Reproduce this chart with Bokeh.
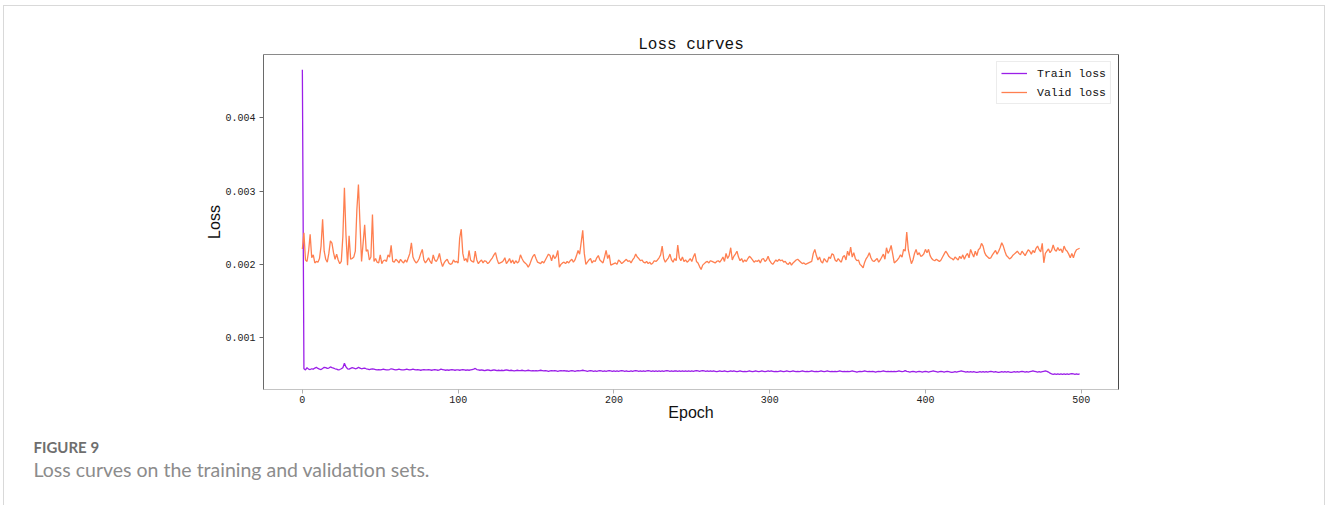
from bokeh.plotting import figure
from bokeh.models import (Range1d, FixedTicker, PrintfTickFormatter, Title,
                          LinearAxis, Legend, LegendItem)
from bokeh.embed import file_html
from bokeh.resources import INLINE

# ---------------- data (loss values in units of 1e-6) ----------------
title_text = "Loss curves"
x_label = "Epoch"
y_label = "Loss"
series_names = ["Train loss", "Valid loss"]
x_ticks = [0, 100, 200, 300, 400, 500]
y_ticks = [0.001, 0.002, 0.003, 0.004]
caption_head = "FIGURE 9"
caption_text = "Loss curves on the training and validation sets."

train_loss_e6 = [
    4657, 575, 560, 590, 570, 565, 575, 570, 585, 595,
    580, 570, 565, 580, 595, 590, 580, 585, 600, 590,
    585, 575, 570, 560, 565, 575, 590, 650, 600, 575,
    570, 580, 590, 585, 575, 580, 595, 585, 575, 580,
    585, 575, 570, 565, 570, 575, 570, 565, 560, 565,
    560, 565, 570, 565, 560, 560, 565, 575, 570, 565,
    560, 565, 570, 565, 560, 560, 565, 570, 565, 560,
    565, 570, 565, 560, 565, 560, 555, 560, 565, 560,
    560, 565, 560, 555, 560, 565, 560, 555, 560, 570,
    565, 560, 555, 560, 555, 560, 565, 560, 555, 560,
    560, 555, 560, 565, 560, 555, 560, 555, 560, 565,
    570, 580, 565, 560, 555, 560, 555, 550, 555, 560,
    555, 550, 555, 560, 555, 550, 555, 550, 555, 550,
    555, 560, 555, 550, 555, 550, 545, 550, 555, 550,
    550, 555, 550, 545, 550, 555, 550, 545, 550, 545,
    550, 545, 550, 555, 550, 545, 550, 545, 540, 545,
    550, 545, 550, 545, 540, 545, 550, 545, 550, 545,
    545, 540, 545, 550, 545, 540, 545, 550, 545, 550,
    555, 550, 545, 540, 545, 550, 545, 540, 545, 540,
    545, 550, 545, 540, 545, 540, 545, 550, 545, 540,
    545, 540, 545, 540, 545, 550, 545, 540, 545, 540,
    540, 545, 540, 545, 550, 545, 540, 545, 540, 545,
    540, 545, 550, 545, 540, 545, 540, 545, 540, 545,
    540, 545, 540, 545, 550, 545, 540, 545, 540, 545,
    545, 540, 545, 540, 545, 540, 545, 540, 545, 540,
    545, 540, 545, 550, 545, 540, 545, 550, 545, 540,
    545, 540, 545, 540, 545, 540, 535, 540, 545, 540,
    540, 545, 540, 535, 540, 545, 540, 545, 540, 535,
    540, 545, 540, 535, 540, 535, 540, 545, 540, 535,
    540, 545, 540, 535, 540, 545, 540, 535, 540, 545,
    540, 545, 540, 535, 540, 535, 540, 545, 540, 535,
    540, 545, 540, 535, 540, 545, 540, 535, 540, 535,
    540, 545, 540, 535, 540, 535, 540, 545, 540, 535,
    540, 535, 540, 545, 540, 535, 540, 545, 540, 535,
    540, 535, 540, 535, 540, 545, 540, 535, 540, 535,
    540, 535, 540, 545, 540, 535, 530, 535, 540, 535,
    540, 545, 540, 535, 540, 535, 540, 535, 530, 535,
    540, 535, 540, 545, 540, 535, 540, 535, 540, 535,
    540, 535, 540, 545, 540, 535, 540, 550, 540, 535,
    530, 535, 540, 535, 530, 535, 540, 535, 530, 535,
    540, 535, 530, 535, 540, 545, 540, 535, 530, 535,
    540, 535, 530, 535, 540, 535, 530, 525, 530, 535,
    530, 535, 540, 545, 540, 535, 530, 535, 530, 535,
    530, 535, 530, 525, 530, 535, 530, 535, 530, 535,
    530, 535, 540, 535, 530, 535, 530, 525, 530, 535,
    530, 535, 530, 535, 530, 525, 530, 535, 530, 535,
    530, 535, 540, 535, 530, 535, 530, 535, 540, 545,
    540, 535, 530, 535, 530, 535, 540, 545, 540, 530,
    515, 505, 500, 505, 500, 505, 500, 505, 500, 505,
    500, 505, 500, 505, 510, 505, 500, 505, 500, 505,
]

valid_loss_e6 = [
    2210, 2430, 2060, 2040, 2180, 2410, 2090, 2130, 2020, 2040,
    2030, 2080, 2250, 2615, 2180, 2070, 2030, 2150, 2320, 2290,
    2160, 2070, 2140, 2060, 2010, 2040, 2380, 3046, 2400, 1990,
    2390, 2070, 2080, 2100, 2180, 2750, 3090, 2550, 2040, 2290,
    2540, 2180, 2200, 2060, 2100, 2680, 2040, 2080, 2030, 2020,
    2130, 2010, 2050, 2060, 2040, 2130, 2100, 2260, 2040, 2030,
    2070, 2050, 2020, 2070, 2040, 2020, 2060, 2030, 2090, 2150,
    2295, 2100, 2050, 2020, 2040, 2080, 2150, 2205, 2060, 2020,
    2050, 2090, 2040, 2010, 2130, 2060, 2040, 2080, 2150, 2040,
    1970, 2020, 2050, 2070, 2020, 2000, 2010, 2060, 2030, 2040,
    2020, 2360, 2480, 2150, 2050, 2080, 2030, 2190, 2060, 2040,
    2030, 2180, 2060, 2010, 2040, 2060, 2020, 2050, 2040, 2010,
    2030, 2060, 2090, 2130, 2160, 2070, 2010, 2020, 2030, 2050,
    2090, 2010, 2040, 2080, 2020, 2060, 2010, 2050, 2020, 2040,
    2130, 2080, 2040, 2020, 2000, 1960, 2000, 2060, 2110, 2137,
    2080, 2030, 2020, 2010, 2040, 2020, 2060, 2100, 2140, 2120,
    2050, 2130, 2080, 2110, 2190, 1960, 2000, 2020, 2030, 2010,
    2040, 2020, 2050, 2070, 2030, 2060, 2120, 2190, 2140, 2300,
    2464, 2150, 2000, 2030, 2060, 2080, 2020, 2050, 2040, 2090,
    2120, 2060, 2040, 2020, 2100, 2190, 2080, 2130, 1990, 2000,
    2010, 2020, 2000, 2060, 2040, 2010, 2030, 2050, 2070, 2040,
    2050, 2020, 2060, 2090, 2140, 2100, 2080, 2050, 2060, 2030,
    2020, 2040, 2010, 2030, 2000, 2020, 2050, 2040, 2060, 2090,
    2130, 2250, 2080, 2030, 2060, 2090, 2140, 2060, 2030, 2080,
    2050, 2264, 2090, 2050, 2100, 2040, 2060, 2030, 2050, 2080,
    2040, 2100, 2150, 2040, 2020, 1970, 1930, 1990, 2010, 2030,
    2040, 2020, 2050, 2040, 2030, 2020, 2040, 2050, 2030, 2060,
    2100, 2040, 2150, 2080, 2120, 2227, 2060, 2110, 2140, 2180,
    2100, 2050, 2080, 2030, 2060, 2040, 2080, 2110, 2090, 2060,
    2030, 2050, 2040, 2060, 2020, 2070, 2080, 2040, 2060, 2110,
    2050, 2020, 2000, 2030, 2060, 2040, 2070, 2050, 2060, 2030,
    2040, 2010, 2000, 2030, 1990, 2020, 2040, 2060, 2070, 2050,
    2030, 2010, 2020, 2000, 2010, 2020, 2030, 2040, 2150, 2205,
    2120, 2060, 2100, 2040, 2020, 2080, 2050, 2030, 2100, 2080,
    2145, 2130, 2060, 2040, 2080, 2050, 2030, 2100, 2120, 2060,
    2180, 2120, 2236, 2100, 2160, 2080, 2050, 2060, 2000, 1980,
    1954, 2030, 2080, 2110, 2160, 2090, 2050, 2040, 2060, 2080,
    2030, 2060, 2100, 2140, 2070, 2227, 2150, 2190, 2260, 2140,
    2020, 2040, 2060, 2090, 2130, 2100, 2205, 2180, 2441, 2200,
    2100, 2010, 2060, 2150, 2205, 2130, 2160, 2110, 2120, 2145,
    2205, 2160, 2205, 2120, 2080, 2060, 2050, 2070, 2055, 2040,
    2060, 2100, 2140, 2180, 2150, 2110, 2090, 2080, 2060, 2100,
    2080, 2060, 2110, 2080, 2130, 2070, 2120, 2150, 2090, 2205,
    2150, 2100, 2180, 2120, 2200, 2220, 2287, 2250, 2160, 2120,
    2100, 2080, 2090, 2130, 2160, 2190, 2140, 2180, 2230, 2296,
    2250, 2180, 2120, 2100, 2075, 2090, 2120, 2140, 2160, 2180,
    2150, 2130, 2180, 2150, 2120, 2160, 2200, 2180, 2140, 2190,
    2160, 2220, 2250, 2200, 2170, 2287, 2022, 2150, 2180, 2210,
    2160, 2190, 2264, 2200, 2180, 2230, 2190, 2210, 2160, 2250,
    2200, 2180, 2140, 2090, 2150, 2090, 2160, 2200, 2210, 2220,
]

train_loss = [v * 1e-6 for v in train_loss_e6]
valid_loss = [v * 1e-6 for v in valid_loss_e6]
train_epochs = list(range(len(train_loss)))
valid_epochs = list(range(len(valid_loss)))

# matplotlib-like 5% margins around the data
all_x = train_epochs + valid_epochs
all_y = train_loss + valid_loss
xspan = max(all_x) - min(all_x)
yspan = max(all_y) - min(all_y)
x_range = Range1d(min(all_x) - 0.05 * xspan, max(all_x) + 0.05 * xspan)
y_range = Range1d(min(all_y) - 0.05 * yspan, max(all_y) + 0.05 * yspan)

TRAIN_COLOR = "#9b1fe8"
VALID_COLOR = "#ff7f50"
MONO = "Liberation Mono"

W, H = 1322, 500
p = figure(width=W, height=H, output_backend="svg", toolbar_location=None,
           x_range=x_range, y_range=y_range,
           min_border_left=260, min_border_right=207,
           min_border_top=49, min_border_bottom=116)
p.margin = (5, 0, 0, 3)
p.border_fill_color = None
p.background_fill_color = "white"
p.outline_line_color = None
p.styles = {"box-shadow": "inset 1px 1px 0 #d9d9d9, inset -1px 0 0 #d9d9d9"}
p.xgrid.visible = False
p.ygrid.visible = False

# title above the frame
p.title.text = title_text
p.title.align = "center"
p.title.text_font = MONO
p.title.text_font_size = "16px"
p.title.text_font_style = "normal"
p.title.text_color = "#111"
p.title.standoff = 1

# bottom axis
xa = p.xaxis[0]
xa.ticker = FixedTicker(ticks=x_ticks)
xa.axis_label = x_label
xa.axis_label_text_font = "Liberation Sans"
xa.axis_label_text_font_size = "16px"
xa.axis_label_text_font_style = "normal"
xa.axis_label_text_color = "#111"
xa.axis_label_standoff = -2
xa.major_label_text_font = MONO
xa.major_label_text_font_size = "10px"
xa.major_label_text_color = "#222"
xa.major_label_standoff = 2
xa.axis_line_color = "#c4c4c4"
xa.major_tick_line_color = "#b0b0b0"
xa.major_tick_out = 4
xa.major_tick_in = 0
xa.minor_tick_line_color = None

# left axis
ya = p.yaxis[0]
ya.ticker = FixedTicker(ticks=y_ticks)
ya.formatter = PrintfTickFormatter(format="%.3f")
ya.axis_label = y_label
ya.axis_label_text_font = "Liberation Sans"
ya.axis_label_text_font_size = "16px"
ya.axis_label_text_font_style = "normal"
ya.axis_label_text_color = "#111"
ya.axis_label_standoff = -1
ya.major_label_text_font = MONO
ya.major_label_text_font_size = "10px"
ya.major_label_text_color = "#222"
ya.major_label_standoff = 4
ya.axis_line_color = "#6a6a6a"
ya.major_tick_line_color = "#6a6a6a"
ya.major_tick_out = 4
ya.major_tick_in = 0
ya.minor_tick_line_color = None

# right spine
ax_r = LinearAxis(ticker=FixedTicker(ticks=[]), axis_line_color="#4a4a4a",
                  major_tick_line_color=None, minor_tick_line_color=None,
                  major_label_text_font_size="0px")
p.add_layout(ax_r, "right")
# top spine (placed before the title in the above panel)
ax_t = LinearAxis(ticker=FixedTicker(ticks=[]), axis_line_color="#8a8a8a",
                  major_tick_line_color=None, minor_tick_line_color=None,
                  major_label_text_font_size="0px")
p.above.insert(0, ax_t)

r_train = p.line(train_epochs, train_loss, line_color=TRAIN_COLOR, line_width=1.3)
r_valid = p.line(valid_epochs, valid_loss, line_color=VALID_COLOR, line_width=1.3)

legend = Legend(items=[LegendItem(label=series_names[0], renderers=[r_train]),
                       LegendItem(label=series_names[1], renderers=[r_valid])],
                location="top_right", margin=7, padding=4, spacing=5,
                glyph_width=26, glyph_height=14, label_height=14,
                label_standoff=10, label_text_font=MONO,
                label_text_font_size="11.5px", label_text_color="#111",
                border_line_color="#d9d9d9", border_line_width=1,
                background_fill_color="white", background_fill_alpha=0.9)
p.add_layout(legend)

# caption below the chart
cap1 = Title(text=caption_head, align="left", offset=-230, standoff=25,
             text_font="Lato", text_font_size="15px", text_font_style="bold",
             text_color="#6e6e6e")
cap2 = Title(text=caption_text, align="left", offset=-230, standoff=-25,
             text_font="Lato", text_font_size="19.5px", text_font_style="normal",
             text_color="#8c8c8c")
p.add_layout(cap1, "below")
p.add_layout(cap2, "below")

open("out.html", "w").write(file_html(p, INLINE))
